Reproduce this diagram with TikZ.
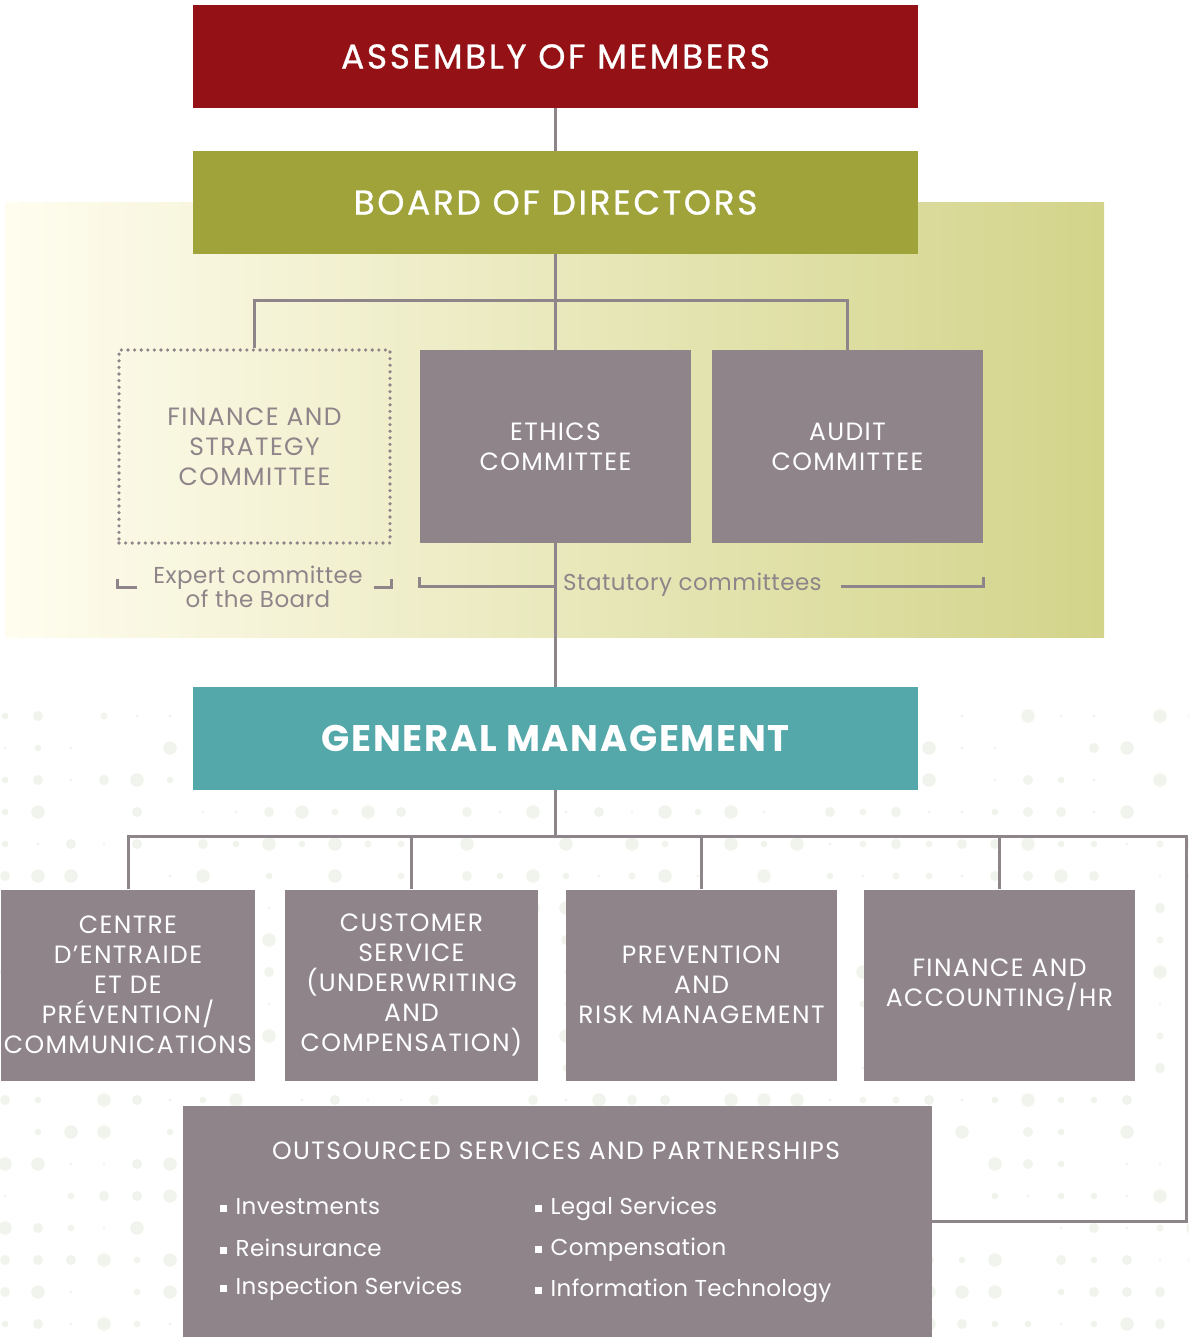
\documentclass[tikz,border=0pt]{standalone}
\usepackage{fontspec}
\setmainfont{Poppins}
\usetikzlibrary{positioning}
\definecolor{memberred}{HTML}{941216}
\definecolor{boardolive}{HTML}{9FA339}
\definecolor{gmteal}{HTML}{55A8AA}
\definecolor{unitgray}{HTML}{8E8489}
\definecolor{linegray}{HTML}{8D8589}
\definecolor{washleft}{HTML}{FFFDEF}
\definecolor{washright}{HTML}{D3D48A}
\definecolor{dotgreen}{HTML}{F1F4ED}
\newcommand{\bul}{\raisebox{3pt}{\rule{6.5pt}{6.5pt}}\hspace{9pt}}

\begin{document}
\begin{tikzpicture}[x=1pt,y=-1pt,
  head/.style={rectangle,minimum width=725pt,minimum height=103pt,inner sep=0pt,
    text=white,font=\fontsize{34.5}{40}\selectfont\addfontfeature{LetterSpace=7.5,FakeBold=0.8}},
  unit/.style={rectangle,fill=unitgray,text=white,align=center,inner sep=0pt,
    font=\fontsize{25}{30}\selectfont\addfontfeature{LetterSpace=5.5}},
  committee/.style={unit,minimum width=271pt,minimum height=193pt},
  branch/.style={unit,minimum height=191pt},
  link/.style={draw=linegray,line width=3pt},
  bracket/.style={draw=linegray,line width=3pt},
  note/.style={text=linegray,align=center,inner sep=0pt,
    font=\fontsize{23}{23}\selectfont\addfontfeature{LetterSpace=2}},
  item/.style={text=white,anchor=west,inner sep=0pt,
    font=\fontsize{23}{26}\selectfont\addfontfeature{LetterSpace=1.5}},
]
\useasboundingbox (0,0) rectangle (1188,1337);

% --- halftone dots in the lower half ---
\pgfmathsetseed{17}
\foreach \i in {0,...,36}{
  \foreach \j in {0,...,19}{
    \pgfmathsetmacro\r{int(random(0,4))*1.7}
    \fill[dotgreen] (5+33*\i,716+32*\j) circle (\r pt);
  }
}

% --- board wash behind the committees ---
\shade[left color=washleft,right color=washright] (5,203) rectangle (1104,637);

% --- governance ---
\node[head,fill=memberred]  (assembly) at (555.5,56.5)  {ASSEMBLY OF MEMBERS};
\node[head,fill=boardolive] (board)    at (555.5,202.5) {BOARD OF DIRECTORS};

\node[committee,fill=none,draw=linegray,line width=3.6pt,line cap=round,
  dash pattern=on 0pt off 6.6pt,text=linegray]
  (fsc) at (254.5,446.5) {FINANCE AND\\STRATEGY\\COMMITTEE};
\node[committee] (ethics) at (555.5,446.5) {ETHICS\\COMMITTEE};
\node[committee] (audit)  at (847.5,446.5) {AUDIT\\COMMITTEE};

\draw[link] (assembly) -- (board);
\draw[link] (board) -- (ethics);
\draw[link] (fsc.north) -- ++(0,-48) -| (audit.north);

% committee groups
\node[note] (expert) at (258,587) {Expert committee\\of the Board};
\draw[bracket] (fsc.south west) ++(0,34) -- ++(0,9) -- ++(20,0);
\draw[bracket] (fsc.south east) ++(0,34) -- ++(0,9) -- ++(-18,0);
\node[note,anchor=west] (stat) at (563,585) {Statutory committees};
\draw[bracket] (ethics.south west) ++(0,34) -- ++(0,9) -- ++(135,0);
\draw[bracket] (841,586) -| ([yshift=-34pt]audit.south east);

% --- management ---
\node[head,fill=gmteal,font=\fontsize{37}{40}\selectfont\bfseries\addfontfeature{LetterSpace=4.5}]
  (gm) at (555.5,738.5) {GENERAL MANAGEMENT};
\draw[link] (ethics) -- (gm);

\node[branch,minimum width=254pt] (centre) at (128,985)   {CENTRE\\D’ENTRAIDE\\ET DE\\PRÉVENTION/\\COMMUNICATIONS};
\node[branch,minimum width=253pt] (cust)   at (411.5,985) {CUSTOMER\\SERVICE\\(UNDERWRITING\\AND\\COMPENSATION)};
\node[branch,minimum width=271pt] (prev)   at (701.5,985) {PREVENTION\\AND\\RISK MANAGEMENT};
\node[branch,minimum width=271pt] (fin)    at (999.5,985) {FINANCE AND\\ACCOUNTING/HR};

\node[unit,minimum width=749pt,minimum height=231pt] (outs) at (557.5,1221.5) {};
\node[unit,fill=none] (outstitle) at (556,1151) {OUTSOURCED SERVICES AND PARTNERSHIPS};
\foreach \t [count=\k] in {Investments,Reinsurance,Inspection Services}
  \node[item] (left\k) at (220,1166+41*\k) {\bul\t};
\foreach \t [count=\k] in {Legal Services,Compensation,Information Technology}
  \node[item] (right\k) at (535,1168+41*\k) {\bul\t};

\coordinate (rim) at (1186.5,836);
\draw[link] (gm) -- (gm |- rim);
\draw[link] (centre.north) |- (rim) |- (outs.east);
\foreach \n in {cust,prev,fin}
  \draw[link] (\n.north) -- (\n.north |- rim);
\end{tikzpicture}
\end{document}
